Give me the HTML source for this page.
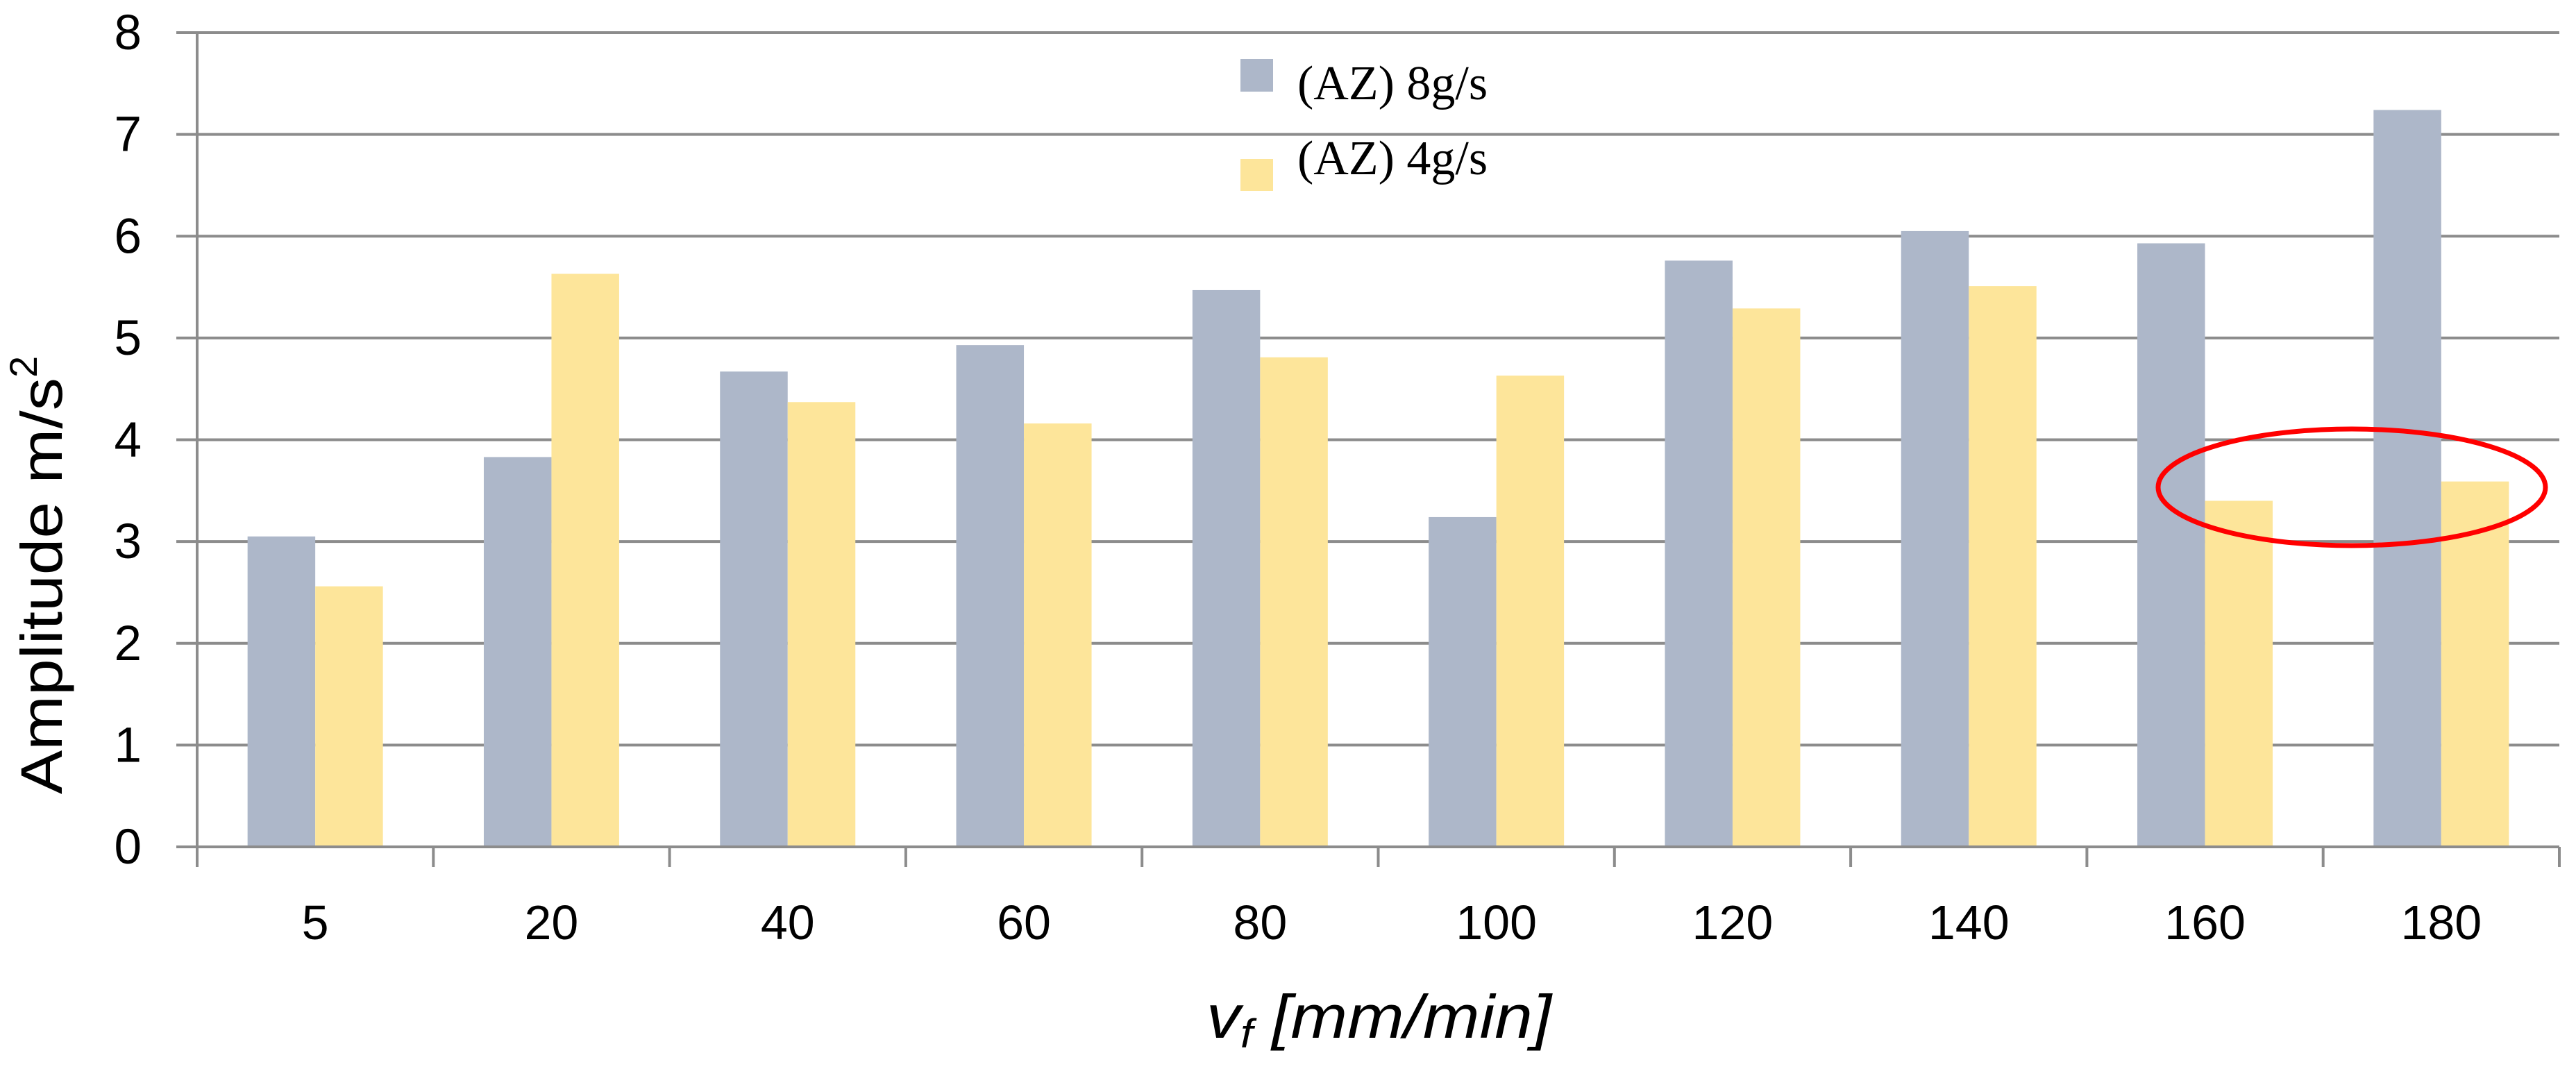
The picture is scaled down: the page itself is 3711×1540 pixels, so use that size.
<!DOCTYPE html>
<html><head><meta charset="utf-8"><style>
html,body{margin:0;padding:0;background:#fff;}
svg{display:block;}
</style></head><body>
<svg id="chart" width="3711" height="1540" xmlns="http://www.w3.org/2000/svg">
<rect x="0" y="0" width="3711" height="1540" fill="#fff"/>
<g id="grid"></g>
<g id="bars"></g>
<g id="axes"></g>
<g id="ylabels" font-family="Liberation Sans, sans-serif" font-size="71" fill="#000" text-anchor="end"></g>
<g id="xlabels" font-family="Liberation Sans, sans-serif" font-size="70" fill="#000" text-anchor="middle"></g>
<text transform="translate(89,1144) rotate(-90)" font-family="Liberation Sans, sans-serif" font-size="84" fill="#000"><tspan textLength="600" lengthAdjust="spacingAndGlyphs">Amplitude m/s</tspan><tspan font-size="56" dy="-36">2</tspan></text>
<text x="1738" y="1495" font-family="Liberation Sans, sans-serif" font-style="italic" font-size="88" fill="#000" textLength="497" lengthAdjust="spacingAndGlyphs">v<tspan font-size="58" dy="14">f</tspan><tspan dy="-14"> [mm/min]</tspan></text>
<g font-family="Liberation Serif, serif" font-size="70" fill="#000">
  <g>
    <rect x="1787" y="85" width="47" height="47" fill="#ADB7C9"/>
    <text x="1869" y="143">(AZ) 8g/s</text>
  </g>
  <g>
    <rect x="1787" y="229" width="47" height="46" fill="#FDE59A"/>
    <text x="1869" y="251">(AZ) 4g/s</text>
  </g>
</g>
<ellipse cx="3388" cy="702" rx="279" ry="84" fill="none" stroke="#FF0000" stroke-width="7"/>
</svg>
<script>
const categories = ["5","20","40","60","80","100","120","140","160","180"];
const series8 = [3.05,3.83,4.67,4.93,5.47,3.24,5.76,6.05,5.93,7.24];
const series4 = [2.56,5.63,4.37,4.16,4.81,4.63,5.29,5.51,3.40,3.59];
const yTicks = [0,1,2,3,4,5,6,7,8];

const NS = "http://www.w3.org/2000/svg";
const X0 = 284, X1 = 3687, Y0 = 1220, Y8 = 47;
const catW = (X1 - X0) / categories.length;
const yMax = 8;
function yScale(v){ return Y0 - (v / yMax) * (Y0 - Y8); }
function xCat(i){ return X0 + i * catW; }
function mk(tag, attrs, parent){
  const el = document.createElementNS(NS, tag);
  for (const k in attrs) el.setAttribute(k, attrs[k]);
  parent.appendChild(el);
  return el;
}
const grid = document.getElementById('grid');
const bars = document.getElementById('bars');
const axes = document.getElementById('axes');
const yl = document.getElementById('ylabels');
const xl = document.getElementById('xlabels');
const GC = "#8C8C8C";

yTicks.forEach(t => {
  const y = yScale(t);
  const ln = mk('line', {x1: X0 - 30, x2: X1, y1: y, y2: y, stroke: GC, 'stroke-width': 4}, grid);
  
  
  const tx = mk('text', {x: 204, y: y + 24}, yl);
  tx.textContent = t;
  
  
});

const barW = catW * 0.2865;
const off = (catW - 2 * barW) / 2;
categories.forEach((c, i) => {
  const x = xCat(i) + off;
  const b1 = mk('rect', {x: x, y: yScale(series8[i]), width: barW, height: Y0 - yScale(series8[i]), fill: '#ADB7C9'}, bars);
  
  
  const b2 = mk('rect', {x: x + barW, y: yScale(series4[i]), width: barW, height: Y0 - yScale(series4[i]), fill: '#FDE59A'}, bars);
  
  
  const tx = mk('text', {x: xCat(i) + catW / 2, y: 1353}, xl);
  tx.textContent = c;
  
  
});

for (let i = 0; i <= categories.length; i++) {
  const x = xCat(i);
  const tk = mk('line', {x1: x, x2: x, y1: Y0, y2: 1249, stroke: GC, 'stroke-width': 4}, axes);
  
  
}
const ya = mk('line', {x1: X0, x2: X0, y1: Y8, y2: 1249, stroke: GC, 'stroke-width': 4}, axes);


const xa = mk('line', {x1: X0 - 30, x2: X1, y1: Y0, y2: Y0, stroke: GC, 'stroke-width': 4}, axes);


</script>
</body></html>
